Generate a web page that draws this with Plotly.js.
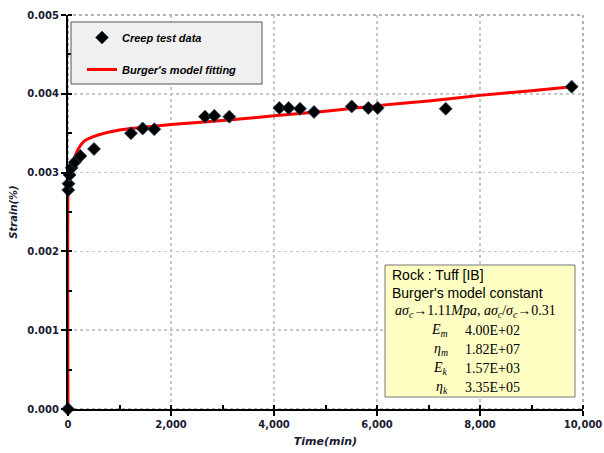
<!DOCTYPE html>
<html>
<head>
<meta charset="utf-8">
<script src="https://cdn.plot.ly/plotly-3.0.1.min.js"></script>
<style>html,body{margin:0;padding:0;background:#fff}#chart{width:604px;height:453px}</style>
</head>
<body>
<div id="chart"></div>
<script>
// Creep test data (time in minutes, strain)
const testTime = [0, 5, 10, 30, 70, 130, 240, 505, 1223, 1450, 1676, 2660, 2841, 3132, 4103, 4285, 4505, 4777, 5509, 5831, 6014, 7334, 9780];
const testStrain = [0, 0.00278, 0.00286, 0.00297, 0.00306, 0.00313, 0.00321, 0.00330, 0.00350, 0.00356, 0.00355, 0.00371, 0.00372, 0.00371, 0.00382, 0.00382, 0.00381, 0.00377, 0.00384, 0.00382, 0.00382, 0.00381, 0.00409];

// Burger's model fitting curve
const fitTime = [0, 0, 20, 60, 120, 200, 300, 400, 600, 1000, 1500, 2000, 3000, 4000, 5000, 6000, 7000, 8000, 9000, 9780];
const fitStrain = [0, 0.00275, 0.00295, 0.00306, 0.00318, 0.00330, 0.00339, 0.00343, 0.00348, 0.00354, 0.00358, 0.00361, 0.00366, 0.00372, 0.00378, 0.00385, 0.00391, 0.00398, 0.00404, 0.00409];

const xTicks = [0, 2000, 4000, 6000, 8000, 10000];
const yTicks = [0, 0.001, 0.002, 0.003, 0.004, 0.005];

const legendNames = ["Creep test data", "Burger's model fitting"];
const boxHeader = ["Rock\u00a0: Tuff [IB]", "Burger's model constant"];
const boxCondition = "<i>a\u03c3<sub>c</sub></i>\u21921.11<i>Mpa</i>, <i>a\u03c3<sub>c</sub></i>/<i>\u03c3<sub>c</sub></i>\u21920.31";
const paramNames = ["<i>E<sub>m</sub></i>", "<i>\u03b7<sub>m</sub></i>", "<i>E<sub>k</sub></i>", "<i>\u03b7<sub>k</sub></i>"];
const paramValues = ["4.00E+02", "1.82E+07", "1.57E+03", "3.35E+05"];

const tickFont = {family: "DejaVu Sans", size: 10, color: "#1a1a33", weight: "bold"};

const markerTrace = {
  x: testTime, y: testStrain, type: "scatter", mode: "markers", name: legendNames[0],
  marker: {symbol: "diamond", size: 10, color: "#000000", line: {color: "#2a4a6a", width: 0.8}},
  legendgroup: "a", legendrank: 1, cliponaxis: false
};
const lineTrace = {
  x: fitTime, y: fitStrain, type: "scatter", mode: "lines", name: legendNames[1],
  line: {color: "#ff0000", width: 3, shape: "spline", smoothing: 0.6},
  legendgroup: "b", legendrank: 2
};
// line first so markers draw on top
const data = [lineTrace, markerTrace];

const X0 = 68, X1 = 583, Y0 = 409, Y1 = 15;
const fx = px => (px - X0) / (X1 - X0);
const fy = py => (Y0 - py) / (Y0 - Y1);

const annotations = [];
boxHeader.forEach((t, i) => annotations.push({
  xref: "paper", yref: "paper", x: fx(390), y: fy(275 + i * 18.3), xanchor: "left", yanchor: "middle",
  text: t, showarrow: false, font: {family: "Liberation Sans", size: 14, color: "#000"}
}));
annotations.push({
  xref: "paper", yref: "paper", x: fx(393), y: fy(311.7), xanchor: "left", yanchor: "middle",
  text: boxCondition, showarrow: false, font: {family: "Liberation Serif", size: 14, color: "#000"}
});
paramNames.forEach((t, i) => {
  annotations.push({
    xref: "paper", yref: "paper", x: fx(450), y: fy(330 + i * 19.1), xanchor: "right", yanchor: "middle",
    text: t, showarrow: false, font: {family: "Liberation Serif", size: 14, color: "#000"}
  });
  annotations.push({
    xref: "paper", yref: "paper", x: fx(463), y: fy(330 + i * 19.1), xanchor: "left", yanchor: "middle",
    text: paramValues[i], showarrow: false, font: {family: "Liberation Serif", size: 14, color: "#000"}
  });
});

const layout = {
  width: 604, height: 453,
  margin: {l: 68, r: 21, t: 15, b: 44},
  paper_bgcolor: "#ffffff", plot_bgcolor: "#ffffff",
  separators: ".,",
  showlegend: true,
  legend: {
    x: fx(82), y: fy(23), xanchor: "left", yanchor: "top",
    bgcolor: "rgba(0,0,0,0)", borderwidth: 0,
    font: {family: "Liberation Sans", size: 11, color: "#000", weight: "bold", style: "italic"},
    traceorder: "grouped", tracegroupgap: 13, itemwidth: 30
  },
  xaxis: {
    range: [0, 10000], tickvals: xTicks, tickformat: ",d",
    showline: true, linecolor: "#000", linewidth: 2,
    ticks: "outside", ticklen: 5, tickwidth: 2, tickcolor: "#000",
    minor: {dtick: 1000, ticks: "inside", ticklen: 4, tickwidth: 2, tickcolor: "#000", showgrid: false},
    showgrid: true, gridcolor: "#c8c8c8", griddash: "dot", gridwidth: 1.5,
    zeroline: false, tickfont: tickFont,
    title: {text: "Time(min)", font: {family: "DejaVu Sans", size: 11, color: "#1a1a33", weight: "bold", style: "italic"}, standoff: 8}
  },
  yaxis: {
    range: [0, 0.005], tickvals: yTicks, tickformat: ".3f",
    showline: true, linecolor: "#000", linewidth: 2,
    ticks: "outside", ticklen: 5, tickwidth: 2, tickcolor: "#000",
    minor: {dtick: 0.0005, ticks: "inside", ticklen: 4, tickwidth: 2, tickcolor: "#000", showgrid: false},
    showgrid: true, gridcolor: "#c8c8c8", griddash: "dot", gridwidth: 1.5,
    zeroline: false, tickfont: tickFont,
    title: {text: "Strain(%)", font: {family: "DejaVu Sans", size: 10, color: "#1a1a33", weight: "bold", style: "italic"}, standoff: 8}
  },
  shapes: [
    {type: "rect", xref: "paper", yref: "paper", x0: 0, x1: 1, y0: 0, y1: 1,
     line: {color: "#999999", width: 1.5, dash: "dot"}, layer: "below"},
    {type: "rect", xref: "paper", yref: "paper", x0: fx(71), x1: fx(262), y0: fy(84), y1: fy(22),
     fillcolor: "#f0f0f0", line: {color: "#555555", width: 1}, layer: "above"},
    {type: "rect", xref: "paper", yref: "paper", x0: fx(385), x1: fx(575), y0: fy(397), y1: fy(265),
     fillcolor: "#ffffc4", line: {color: "#777777", width: 1}, layer: "above"}
  ],
  annotations: annotations
};

Plotly.newPlot("chart", data, layout, {displayModeBar: false, staticPlot: true});
</script>
</body>
</html>
